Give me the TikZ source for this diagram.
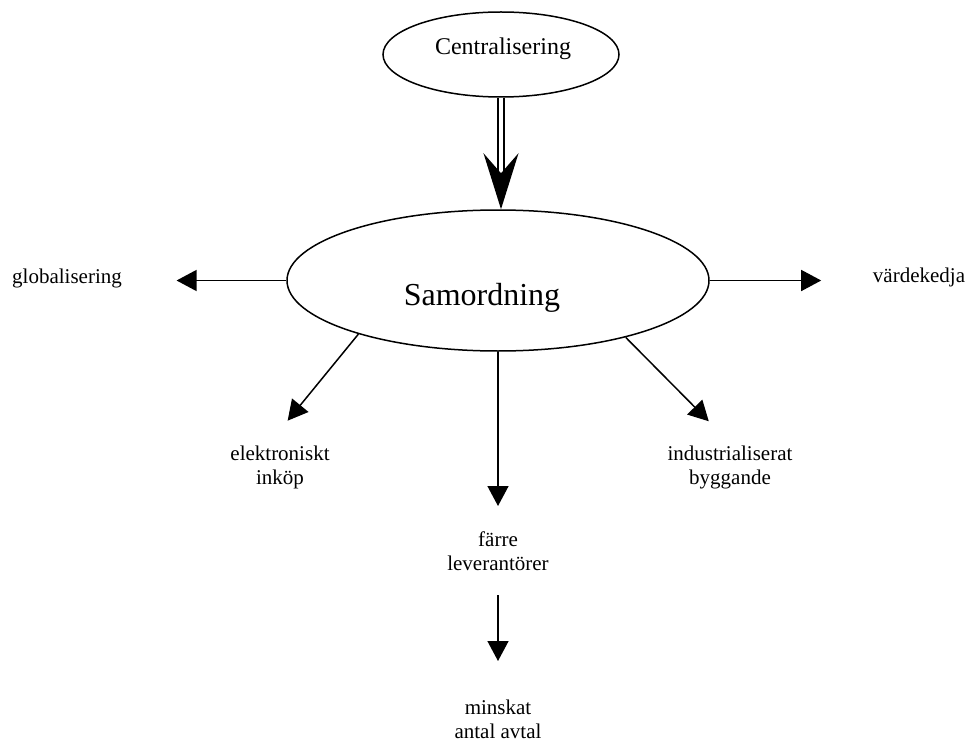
\documentclass[tikz,border=0pt]{standalone}
\usepackage{fontspec}
\setmainfont{Liberation Serif}
\usetikzlibrary{arrows.meta,shapes.geometric}

\begin{document}
\begin{tikzpicture}[x=1pt, y=-1pt, line width=1.5pt,
    lbl/.style={align=center, inner sep=0pt, font=\fontsize{21}{24}\selectfont},
    arr/.style={-{Triangle[length=20pt,width=21pt]}}]
    \useasboundingbox (0,0) rectangle (968,746);
    \node [ellipse, draw, minimum width=236pt, minimum height=85pt,
      label={[font=\fontsize{24}{28}\selectfont, xshift=2pt, yshift=6pt]center:Centralisering}]
      (centr) at (501,54.5) {};
    \node [ellipse, draw, minimum width=422pt, minimum height=141pt,
      label={[font=\fontsize{32}{36}\selectfont, xshift=-16pt, yshift=-17pt]center:Samordning}]
      (samordning) at (498,280.5) {};
    \node [lbl, anchor=base] (globalisering) at (67,283) {globalisering};
    \node [lbl, anchor=base] (vardekedja) at (919,282) {värdekedja};
    \node [lbl, anchor=north] (elektroniskt) at (280,444.7) {elektroniskt\\inköp};
    \node [lbl, anchor=north] (industri) at (730,444.7) {industrialiserat\\byggande};
    \node [lbl, anchor=north] (farre) at (498,530.7) {färre\\leverantörer};
    \node [lbl, anchor=north] (minskat) at (498,698.7) {minskat\\antal avtal};
    \draw [double, double distance=4.5pt, -{Stealth[length=56pt,width=35pt,inset=20pt]}]
      (centr.south) -- (centr.south |- samordning.north);
    \draw [arr, shorten >=54pt] (samordning.west) -- (samordning.west -| globalisering.east);
    \draw [arr, shorten >=51pt] (samordning.east) -- (samordning.east -| vardekedja.west);
    \draw [arr, shorten >=31pt] (samordning.201) -- ([xshift=-12pt]elektroniskt.north);
    \draw [arr, shorten >=33pt] (samordning.-24) -- ([xshift=2pt]industri.north);
    \draw [arr, shorten >=24.7pt] (samordning.south) -- (farre.north);
    \draw [arr, shorten <=24pt, shorten >=37.7pt] (farre.south) -- (minskat.north);
  \end{tikzpicture}
\end{document}
